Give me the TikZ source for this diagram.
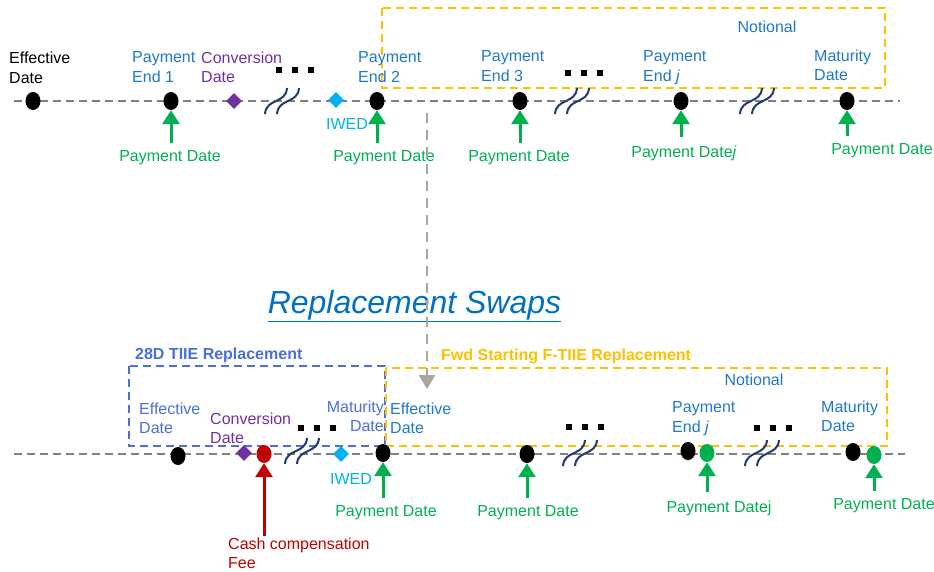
\documentclass[tikz,border=0pt]{standalone}
\usepackage{fontspec}
\setmainfont{Liberation Sans}
\usepackage{tikz}
\usetikzlibrary{arrows.meta,positioning,shapes.geometric,calc}
\definecolor{railgray}{HTML}{808080}
\definecolor{dropgray}{HTML}{A6A6A6}
\definecolor{ocean}{HTML}{1F78C8}
\definecolor{titleblue}{HTML}{0070C0}
\definecolor{sky}{HTML}{00B0F0}
\definecolor{grape}{HTML}{7030A0}
\definecolor{leaf}{HTML}{00B050}
\definecolor{crimson}{HTML}{C00000}
\definecolor{gold}{HTML}{FFC000}
\definecolor{cobalt}{HTML}{4A6FD6}
\definecolor{deepnavy}{HTML}{1F3A78}
\tikzset{
  lbl/.style={font=\fontsize{16}{19.5}\selectfont, align=left, inner sep=0pt, anchor=north west},
  boldlbl/.style={lbl, font=\fontsize{16}{19.5}\selectfont\bfseries, anchor=west},
  paylbl/.style={lbl, text=leaf, anchor=center},
  datedot/.style={ellipse, fill=black, minimum width=15pt, minimum height=18pt, inner sep=0pt},
  convmark/.style={diamond, fill=grape, minimum size=16pt, inner sep=0pt},
  iwedmark/.style={diamond, fill=sky, minimum size=16pt, inner sep=0pt},
  rail/.style={draw=railgray, line width=2pt, dash pattern=on 8pt off 5pt},
  notionalbox/.style={draw=gold, line width=2pt, dash pattern=on 8pt off 5pt},
  legbox/.style={draw=cobalt, line width=2pt, dash pattern=on 8pt off 5pt},
  payflow/.style={-{Triangle[length=14pt,width=17pt]}, draw=leaf, line width=3pt},
  feeflow/.style={payflow, draw=crimson},
  dropflow/.style={-{Triangle[length=14pt,width=16pt]}, draw=dropgray, line width=2.5pt, dash pattern=on 10pt off 7pt},
  brk/.style={draw=deepnavy, line width=2pt}
}

\begin{document}
\begin{tikzpicture}[x=1pt, y=-1pt]
  \useasboundingbox (0,0) rectangle (934,571);

  \newcommand{\wavy}[2]{%
    \draw[brk] (#1-17,#2+13) .. controls (#1-16,#2-3) and (#1+4,#2+3) .. (#1+5,#2-13);
    \draw[brk] (#1-5,#2+13) .. controls (#1-4,#2-3) and (#1+16,#2+3) .. (#1+17,#2-13);}
  \newcommand{\gapdots}[2]{%
    \foreach \dx in {-16,0,16} \fill (#1+\dx-3,#2-3) rectangle ++(6,6);}

  % original swap
  \coordinate (railA0) at (14,101);
  \coordinate (railA1) at (900,101);
  \draw[rail] (railA0) -- (railA1);
  \draw[notionalbox] (382,8) rectangle (885,88);

  \node[lbl] (eff0lab) at (9,52) {Effective\\Date};
  \node[lbl, text=ocean] (pe1lab) at (132,51.5) {Payment\\End 1};
  \node[lbl, text=grape] (conv0lab) at (201,51.5) {Conversion\\Date};
  \node[lbl, text=ocean] (pe2lab) at (358,51.5) {Payment\\End 2};
  \node[lbl, text=ocean] (pe3lab) at (481,50.5) {Payment\\End 3};
  \node[lbl, text=ocean] (pejlab) at (643,50.5) {Payment\\End \textit{j}};
  \node[lbl, text=ocean] (mat0lab) at (814,49.5) {Maturity\\Date};
  \node[lbl, text=ocean, anchor=center] (not0) at (767,27) {Notional};
  \node[lbl, text=sky, anchor=center] (iwed0lab) at (347,124) {IWED};

  \wavy{282}{101}
  \wavy{572}{101}
  \wavy{757}{101}
  \gapdots{295}{70}
  \gapdots{584}{73}

  \node[datedot] (eff0dot) at (33,101) {};
  \node[datedot] (pe1dot) at (171,101) {};
  \node[convmark] (conv0dot) at (234,101) {};
  \node[iwedmark] (iwed0dot) at (336,100) {};
  \node[datedot] (pe2dot) at (377,101) {};
  \node[datedot] (pe3dot) at (520,101) {};
  \node[datedot] (pejdot) at (681,101) {};
  \node[datedot] (mat0dot) at (847,101) {};

  \node[paylbl] (pay1) at (170,158) {Payment Date};
  \node[paylbl] (pay2) at (384,158) {Payment Date};
  \node[paylbl] (pay3) at (519,158) {Payment Date};
  \node[paylbl] (payj) at (684,153) {Payment Date\textit{j}};
  \node[paylbl] (paym) at (882,151) {Payment Date};
  \foreach \p/\d in {pay1/pe1dot, pay2/pe2dot, pay3/pe3dot, payj/pejdot, paym/mat0dot}
    \draw[payflow] ($(\p.north -| \d)+(0,-8)$) -- (\d.south);

  \node[font=\fontsize{32}{38}\selectfont\itshape, text=titleblue, inner sep=0pt] (swaps) at (414.5,306) {\underline{Replacement Swaps}};

  \coordinate (drop0) at (427,113);
  \coordinate (drop1) at (427,389);
  \draw[dropflow] (drop0) -- (drop1);

  % replacement swaps
  \coordinate (railB0) at (14,454);
  \coordinate (railB1) at (905,454);
  \draw[rail] (railB0) -- (railB1);
  \draw[legbox] (129,366) rectangle (385,446);
  \draw[notionalbox] (386,368) rectangle (887,446);

  \node[boldlbl, text=cobalt] (legA) at (135,355) {28D TIIE Replacement};
  \node[boldlbl, text=gold] (legB) at (441,356) {Fwd Starting F-TIIE Replacement};
  \node[lbl, text=ocean, anchor=center] (not1) at (754,380) {Notional};
  \node[lbl, text=cobalt] (eff1lab) at (139,402.5) {Effective\\Date};
  \node[lbl, text=grape] (conv1lab) at (210,412.5) {Conversion\\Date};
  \node[lbl, text=cobalt, anchor=north east, align=right] (mat1lab) at (384,400.5) {Maturity\\Date};
  \node[lbl, text=ocean] (eff2lab) at (390,402.5) {Effective\\Date};
  \node[lbl, text=ocean] (pej1lab) at (672,401.5) {Payment\\End \textit{j}};
  \node[lbl, text=ocean] (mat2lab) at (821,400.5) {Maturity\\Date};
  \node[lbl, text=sky, anchor=center] (iwed1lab) at (351,479) {IWED};
  \node[lbl, text=crimson] (feelab) at (228,537.5) {Cash compensation\\Fee};

  \wavy{302}{451}
  \wavy{580}{453}
  \wavy{762}{453}
  \gapdots{317}{428}
  \gapdots{585}{427}
  \gapdots{773}{428}

  \node[datedot] (eff1dot) at (178,456) {};
  \node[convmark] (conv1dot) at (244,453) {};
  \node[datedot, fill=crimson] (feedot) at (264,454) {};
  \node[iwedmark] (iwed1dot) at (341,454) {};
  \node[datedot] (swapdot) at (383,453) {};
  \node[datedot] (q1dot) at (527,454) {};
  \node[datedot] (pej1dot) at (688,451) {};
  \node[datedot, fill=leaf] (pej1gdot) at (707,453) {};
  \node[datedot] (mat2dot) at (853,452) {};
  \node[datedot, fill=leaf] (mat2gdot) at (874,455) {};

  \node[paylbl] (payB1) at (386,513) {Payment Date};
  \node[paylbl] (payB2) at (528,513) {Payment Date};
  \node[paylbl] (payBj) at (719,508) {Payment Datej};
  \node[paylbl] (payBm) at (884,506) {Payment Date};
  \foreach \p/\d in {payB1/swapdot, payB2/q1dot, payBj/pej1gdot, payBm/mat2gdot}
    \draw[payflow] ($(\p.north -| \d)+(0,-8)$) -- (\d.south);
  \draw[feeflow] ($(feelab.north -| feedot)+(0,-2)$) -- (feedot.south);
\end{tikzpicture}
\end{document}
